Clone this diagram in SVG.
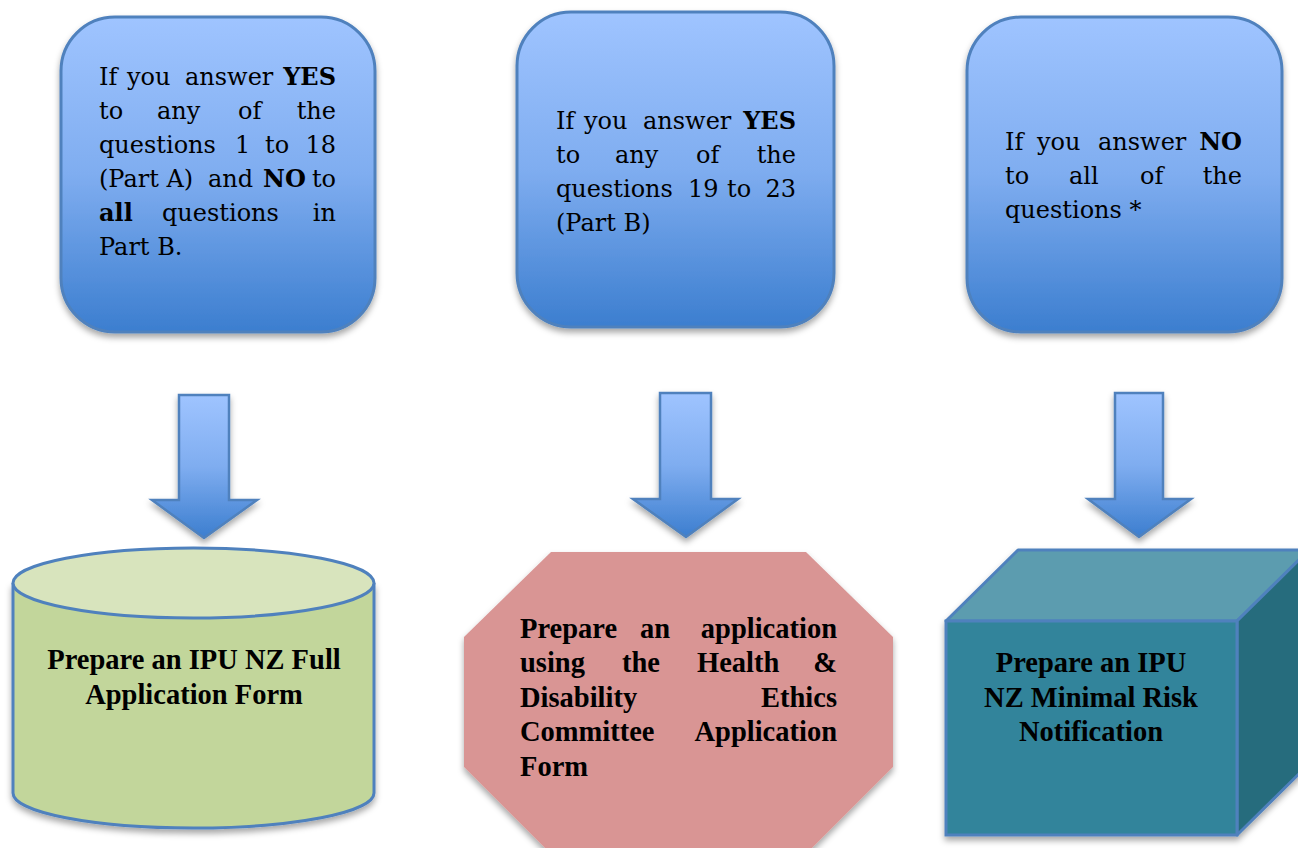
<svg xmlns="http://www.w3.org/2000/svg" width="1298" height="848" viewBox="0 0 1298 848">
<defs>
<linearGradient id="gBlue" x1="0" y1="0" x2="0" y2="1">
<stop offset="0" stop-color="#9FC4FF"/>
<stop offset="0.5" stop-color="#7FADF0"/>
<stop offset="1" stop-color="#3C7ECF"/>
</linearGradient>
<filter id="sh" x="-10%" y="-10%" width="120%" height="125%">
<feDropShadow dx="0" dy="4" stdDeviation="3" flood-color="#000" flood-opacity="0.35"/>
</filter>
<style>
.box{fill:url(#gBlue);stroke:#4F81BD;stroke-width:3;filter:url(#sh)}
.arr{fill:url(#gBlue);stroke:#4F81BD;stroke-width:2.5;stroke-linejoin:miter;filter:url(#sh)}
.t{font-family:"DejaVu Serif","Liberation Serif",serif;font-size:24px;fill:#000}
.b{font-weight:bold}
.bt{font-family:"Liberation Serif","DejaVu Serif",serif;font-size:28.5px;font-weight:bold;fill:#000}
.e{text-anchor:end}
.m{text-anchor:middle}
</style>
</defs>

<g id="connectors">
<path class="arr" d="M179,395 H229 V500 H257 L204,538 L152,500 H179 Z"/>
<path class="arr" d="M660,393 H711 V499 H738 L686,537 L633,499 H660 Z"/>
<path class="arr" d="M1115,393 H1163 V499 H1191 L1139,537 L1088,499 H1115 Z"/>
</g>

<g id="node-q1">
<rect class="box" x="61" y="17" width="314" height="315" rx="54" ry="54"/>
<text class="t" y="85"><tspan x="99">If</tspan><tspan x="127">you</tspan><tspan x="185">answer</tspan></text>
<text class="t b e" x="336" y="85">YES</text>
<text class="t" y="119"><tspan x="99">to</tspan><tspan x="157">any</tspan><tspan x="238">of</tspan></text>
<text class="t e" x="336" y="119">the</text>
<text class="t" y="153"><tspan x="99">questions</tspan><tspan x="235">1</tspan><tspan x="265">to</tspan></text>
<text class="t e" x="336" y="153">18</text>
<text class="t" y="187"><tspan x="99">(Part A)</tspan><tspan x="208">and</tspan><tspan x="263" font-weight="bold">NO</tspan></text>
<text class="t e" x="336" y="187">to</text>
<text class="t" y="221"><tspan x="99" font-weight="bold">all</tspan><tspan x="162">questions</tspan></text>
<text class="t e" x="336" y="221">in</text>
<text class="t" x="99" y="255">Part B.</text>
</g>

<g id="node-q2">
<rect class="box" x="517" y="12" width="317" height="315" rx="54" ry="54"/>
<text class="t" y="129"><tspan x="556">If</tspan><tspan x="584">you</tspan><tspan x="643">answer</tspan></text>
<text class="t b e" x="796" y="129">YES</text>
<text class="t" y="163"><tspan x="556">to</tspan><tspan x="615">any</tspan><tspan x="696">of</tspan></text>
<text class="t e" x="796" y="163">the</text>
<text class="t" y="197"><tspan x="556">questions</tspan><tspan x="688">19</tspan><tspan x="727">to</tspan></text>
<text class="t e" x="796" y="197">23</text>
<text class="t" x="556" y="231">(Part B)</text>
</g>

<g id="node-q3">
<rect class="box" x="967" y="17" width="315" height="315" rx="54" ry="54"/>
<text class="t" y="150"><tspan x="1005">If</tspan><tspan x="1037">you</tspan><tspan x="1098">answer</tspan></text>
<text class="t b e" x="1242" y="150">NO</text>
<text class="t" y="184"><tspan x="1005">to</tspan><tspan x="1069">all</tspan><tspan x="1140">of</tspan></text>
<text class="t e" x="1242" y="184">the</text>
<text class="t" x="1005" y="218">questions *</text>
</g>

<g id="node-full">
<path d="M13,583 V793 A180.5,35 0 0 0 374,793 V583" fill="#C2D69B" stroke="#4F81BD" stroke-width="3" filter="url(#sh)"/>
<ellipse cx="193.5" cy="583" rx="180.5" ry="35" fill="#D8E4BD" stroke="#4F81BD" stroke-width="3"/>
<text class="bt m" x="194" y="669">Prepare an IPU NZ Full</text>
<text class="bt m" x="194" y="704">Application Form</text>
</g>

<g id="node-hdec">
<polygon points="551,552 806,552 893,637 893,767 806,854 551,854 464,767 464,637" fill="#D99594" filter="url(#sh)"/>
<text class="bt" y="638"><tspan x="520">Prepare</tspan><tspan x="640">an</tspan></text>
<text class="bt e" x="837" y="638">application</text>
<text class="bt" y="672"><tspan x="520">using</tspan><tspan x="622">the</tspan><tspan x="697">Health</tspan></text>
<text class="bt e" x="837" y="672">&amp;</text>
<text class="bt" x="520" y="707">Disability</text>
<text class="bt e" x="837" y="707">Ethics</text>
<text class="bt" x="520" y="741">Committee</text>
<text class="bt e" x="837" y="741">Application</text>
<text class="bt" x="520" y="776">Form</text>
</g>

<g id="node-minimal">
<g filter="url(#sh)">
<polygon points="946,621 1018,550 1309,550 1237,621" fill="#5B9CAF" stroke="#4F81BD" stroke-width="3" stroke-linejoin="round"/>
<polygon points="1237,621 1309,550 1309,764 1237,835" fill="#276C7D" stroke="#4F81BD" stroke-width="3" stroke-linejoin="round"/>
<rect x="946" y="621" width="291" height="214" fill="#31849B" stroke="#4F81BD" stroke-width="3"/>
</g>
<text class="bt m" x="1091" y="672">Prepare an IPU</text>
<text class="bt m" x="1091" y="707">NZ Minimal Risk</text>
<text class="bt m" x="1091" y="741">Notification</text>
</g>
</svg>
